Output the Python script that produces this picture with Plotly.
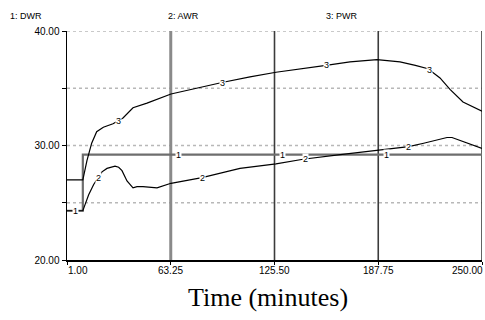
import numpy as np
import plotly.graph_objects as go

# ---- data ----
series_names = ["1: DWR", "2: AWR", "3: PWR"]

t1 = [1, 10.5, 10.5, 250]
v1 = [24.3, 24.3, 29.2, 29.2]

t2 = [1, 10.5, 12, 14, 17, 19.6, 22, 25, 29.8, 32, 34, 37, 40.6, 43, 46.6, 55,
      63.4, 82, 104.8, 126.4, 142.6, 165, 187.6, 206, 215, 223, 229, 232, 236, 241, 250]
v2 = [24.3, 24.3, 24.9, 25.7, 26.6, 27.2, 27.7, 28.0, 28.2, 28.1, 27.8, 26.9, 26.3, 26.4, 26.4, 26.3,
      26.7, 27.2, 28.0, 28.4, 28.8, 29.2, 29.6, 29.9, 30.2, 30.5, 30.7, 30.7, 30.5, 30.2, 29.75]

t3 = [1, 10.5, 13, 15.8, 18.8, 22.8, 28.6, 34.6, 40.6, 49, 63.4, 80.8, 94, 110.8, 126.4,
      156.4, 170.8, 187, 200.8, 210, 217.6, 224.8, 230.8, 238.6, 244, 250]
v3 = [27.0, 27.0, 28.7, 30.2, 31.2, 31.6, 31.9, 32.4, 33.3, 33.7, 34.5, 35.1, 35.5, 36.0, 36.4,
      37.0, 37.3, 37.5, 37.3, 37.0, 36.7, 35.9, 34.9, 33.8, 33.4, 33.0]

label_t1 = [5.8, 68.0, 130.3, 192.5]
label_t2 = [19.6, 82.0, 143.8, 206.0]
label_t3 = [31.6, 94.0, 156.4, 218.6]

x_ticks = [1.00, 63.25, 125.50, 187.75, 250.00]
x_tick_text = ["1.00", "63.25", "125.50", "187.75", "250.00"]
y_ticks = [20, 25, 30, 35, 40]
y_tick_text = ["20.00", "", "30.00", "", "40.00"]
x_title = "Time (minutes)"

# ---- layout geometry (pixels) ----
W, H = 485, 320
ML, MR, MT, MB = 67, 3, 31, 60
PW, PH = W - ML - MR, H - MT - MB


def px_x(px):
    return (px - ML) / PW


def px_y(py):
    return (H - MB - py) / PH


# ---- figure ----
fig = go.Figure()
fig.add_trace(go.Scatter(x=t1, y=v1, mode="lines", line=dict(color="#6e6e6e", width=2.2),
                         showlegend=False, hoverinfo="skip"))
fig.add_trace(go.Scatter(x=t2, y=v2, mode="lines", line=dict(color="#000000", width=1.2),
                         showlegend=False, hoverinfo="skip"))
fig.add_trace(go.Scatter(x=t3, y=v3, mode="lines", line=dict(color="#000000", width=1.2),
                         showlegend=False, hoverinfo="skip"))

shapes = []
for yv in y_ticks[1:]:
    shapes.append(dict(type="line", xref="paper", x0=0, x1=1, yref="y", y0=yv, y1=yv,
                       line=dict(color="#b8b8b8", width=1.5, dash="dot"), layer="below"))
for i, xv in enumerate(x_ticks[1:]):
    if i == 0:
        ln = dict(color="#8a8a8a", width=3)
    else:
        ln = dict(color="#3c3c3c", width=1.6)
    shapes.append(dict(type="line", xref="x", x0=xv, x1=xv, yref="paper", y0=0, y1=1,
                       line=ln, layer="below"))
fig.update_layout(shapes=shapes)

annotations = []
for lt, tt, vv, txt in [(label_t1, t1, v1, "1"), (label_t2, t2, v2, "2"), (label_t3, t3, v3, "3")]:
    for tl in lt:
        yv = float(np.interp(tl, tt, vv)) if txt != "1" else (v1[0] if tl < t1[1] else v1[-1])
        annotations.append(dict(x=tl, y=yv, xref="x", yref="y", text=txt, showarrow=False,
                                font=dict(family="Liberation Sans, Arial", size=9, color="#000"),
                                bgcolor="white", borderpad=0, xanchor="center", yanchor="middle"))

for nm, px in zip(series_names, [26, 183, 342]):
    annotations.append(dict(x=px_x(px), y=px_y(16), xref="paper", yref="paper",
                            text=nm, showarrow=False, xanchor="center", yanchor="middle",
                            font=dict(family="Liberation Sans, Arial", size=9, color="#000")))

for i, (xv, tx) in enumerate(zip(x_ticks, x_tick_text)):
    anchor = "left" if i == 0 else ("right" if i == len(x_ticks) - 1 else "center")
    xs = -1 if i == 0 else (3 if i == len(x_ticks) - 1 else 0)
    annotations.append(dict(x=xv, y=0, xref="x", yref="paper", text=tx, showarrow=False,
                            xanchor=anchor, yanchor="top", yshift=-3, xshift=xs,
                            font=dict(family="Liberation Sans, Arial", size=10, color="#000")))

annotations.append(dict(x=px_x(268), y=px_y(297), xref="paper", yref="paper",
                        text=x_title, showarrow=False, xanchor="center", yanchor="middle",
                        font=dict(family="Liberation Serif, Times New Roman, serif", size=26, color="#000")))
fig.update_layout(annotations=annotations)

fig.update_xaxes(range=[1, 250], showgrid=False, zeroline=False, showline=True,
                 linecolor="#000", linewidth=2, ticks="outside", ticklen=3, tickcolor="#000",
                 tickvals=x_ticks, showticklabels=False)
fig.update_yaxes(range=[20, 40], showgrid=False, zeroline=False, showline=True,
                 linecolor="#000", linewidth=1.5, ticks="outside", ticklen=4, tickcolor="#000",
                 tickvals=y_ticks, ticktext=y_tick_text,
                 tickfont=dict(family="Liberation Sans, Arial", size=10, color="#000"))

fig.update_layout(width=W, height=H, margin=dict(l=ML, r=MR, t=MT, b=MB, pad=0),
                  plot_bgcolor="white", paper_bgcolor="white")

fig.write_html("out.html", config={"displayModeBar": False, "staticPlot": True},
               post_script="document.body.style.margin='0px';")
